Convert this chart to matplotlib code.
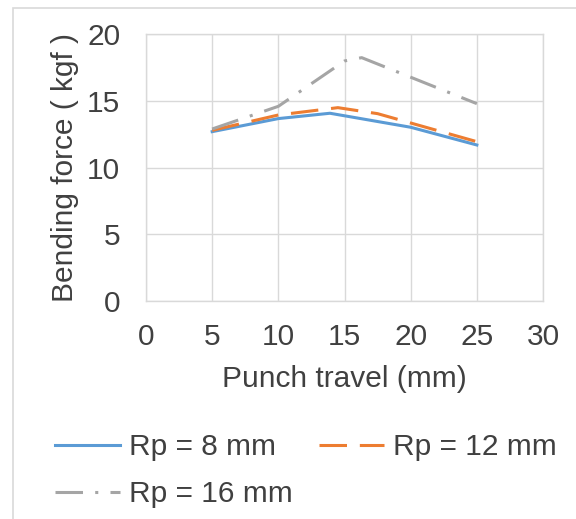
import matplotlib
matplotlib.use("Agg")
import matplotlib.pyplot as plt
from matplotlib.patches import Rectangle

plt.rcParams['font.family'] = ['Liberation Sans', 'DejaVu Sans']

# values
x_rp8 = [5, 10, 13.9, 20, 25]
y_rp8 = [12.7, 13.68, 14.08, 13.03, 11.7]

x_rp12 = [5, 10, 14.5, 17.5, 20, 25]
y_rp12 = [12.8, 13.95, 14.5, 14.05, 13.35, 11.95]

x_rp16 = [5, 10, 15, 16.3, 25]
y_rp16 = [12.9, 14.6, 18.0, 18.25, 14.8]

labels = ['Rp = 8 mm', 'Rp = 12 mm', 'Rp = 16 mm']
xticks = [0, 5, 10, 15, 20, 25, 30]
yticks = [0, 5, 10, 15, 20]

txt = '#404040'
grid = '#D9D9D9'
fs = 21.5

fig = plt.figure(figsize=(5.76, 5.19), dpi=100)
ax = fig.add_axes([0.2535, 0.42, 0.6892, 0.5139])

# chart area border
fig.patches.append(Rectangle((12.5/576, -0.05), 1.1, 1.05 - 7.5/519,
                             transform=fig.transFigure, fill=False,
                             edgecolor=grid, linewidth=1.2))

l1, = ax.plot(x_rp8, y_rp8, color='#5B9BD5', lw=2.2, label=labels[0])
l2, = ax.plot(x_rp12, y_rp12, color='#ED7D31', lw=2.2,
              linestyle=(0, (9, 4.2)), label=labels[1])
l3, = ax.plot(x_rp16, y_rp16, color='#A5A5A5', lw=2.2,
              linestyle=(0, (9, 4, 1, 4)), label=labels[2])

ax.set_xlim(0, 30)
ax.set_ylim(0, 20)
ax.set_xticks(xticks)
ax.set_yticks(yticks)
ax.grid(True, color=grid, linewidth=1.0)
ax.set_axisbelow(True)
for s in ax.spines.values():
    s.set_color(grid)
    s.set_linewidth(1.0)
ax.tick_params(length=0, labelsize=fs, colors=txt)
ax.tick_params(axis='y', pad=18.5)
ax.tick_params(axis='x', pad=16)

ax.set_xlabel('Punch travel (mm)', fontsize=fs, color=txt, labelpad=10)
ax.set_ylabel('Bending force ( kgf )', fontsize=fs, color=txt, labelpad=6)

# Excel fills legend rows first, so reorder for matplotlib's column fill
leg = fig.legend([l1, l3, l2], [labels[0], labels[2], labels[1]], ncol=2,
                 loc='center left', bbox_to_anchor=(0.074, 0.093), frameon=False,
                 fontsize=fs, handlelength=2.2, handletextpad=0.28,
                 columnspacing=0.88, labelspacing=0.62, borderaxespad=0)
for t in leg.get_texts():
    t.set_color(txt)

fig.savefig('out.png', dpi=100)
